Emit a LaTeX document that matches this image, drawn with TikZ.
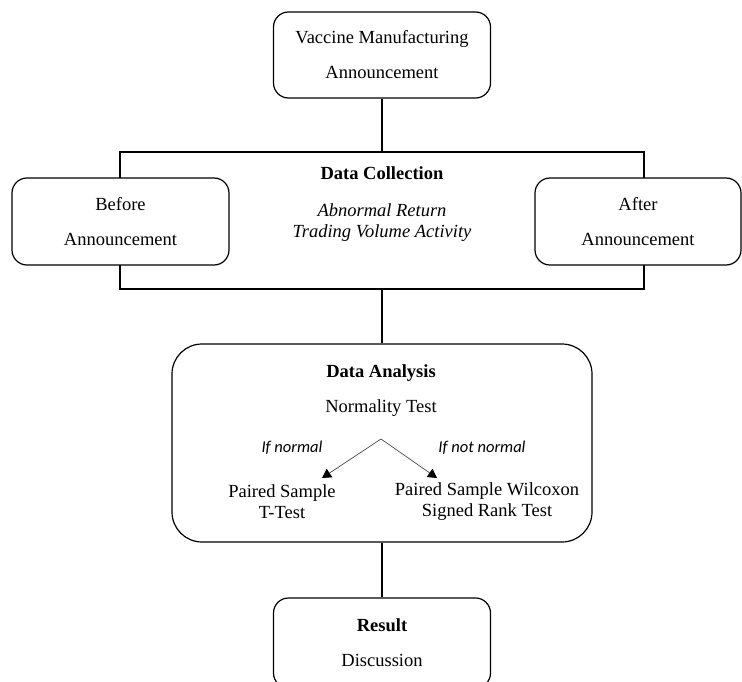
\documentclass[tikz,border=0pt]{standalone}
\usepackage{fontspec}
\setmainfont{Liberation Serif}
\newfontfamily\labelfont{Carlito}
\usetikzlibrary{arrows.meta}

\begin{document}
\begin{tikzpicture}[x=1pt, y=-1pt, line width=1.2pt,
  box/.style={draw, rounded corners=15pt, fill=white, align=center, inner sep=0pt, font=\fontsize{18.5}{35}\selectfont},
  txt/.style={align=center, inner sep=0pt, font=\fontsize{18.5}{21}\selectfont},
  cond/.style={inner sep=0pt, font=\labelfont\itshape\fontsize{16.5}{18}\selectfont},
  branch/.style={-{Triangle[width=10pt,length=9pt,color=black]}, line width=0.7pt, draw=black!70}]
  \clip (0,0) rectangle (742,682);
  \useasboundingbox (0,0) rectangle (742,682);
  \node[box, minimum width=217pt, minimum height=86pt] (vaccine) at (382,55) {Vaccine Manufacturing\\Announcement};
  \node[draw, minimum width=524pt, minimum height=137pt, inner sep=0pt] (collect) at (382,220.5) {};
  \node[box, minimum width=217pt, minimum height=87pt] (before) at (120.5,221.5) {Before\\Announcement};
  \node[box, minimum width=206pt, minimum height=87pt] (after) at (638,221.5) {After\\Announcement};
  \node[txt, font=\bfseries\fontsize{18.5}{21}\selectfont] (collecttitle) at (382,173) {Data Collection};
  \node[txt, font=\itshape\fontsize{18.5}{21}\selectfont] (variables) at (382,222.5) {Abnormal Return\\Trading Volume Activity};
  \node[box, rounded corners=30pt, minimum width=420pt, minimum height=198pt] (analysis) at (382,443) {};
  \node[txt, font=\bfseries\fontsize{18.5}{21}\selectfont] (analysistitle) at (381,373) {Data Analysis};
  \node[txt] (normality) at (381,408) {Normality Test};
  \node[txt] (ttest) at (282,502) {Paired Sample\\T-Test};
  \node[txt] (wilcoxon) at (487,502) {Paired Sample Wilcoxon\\Signed Rank Test};
  \node[cond] (normal) at (292,448) {If normal};
  \node[cond] (notnormal) at (482,448) {If not normal};
  \coordinate (fork) at (381,439);
  \coordinate (normaltip) at (322,478);
  \coordinate (nonnormaltip) at (437,478);
  \draw[branch] (fork) -- (normaltip);
  \draw[branch] (fork) -- (nonnormaltip);
  \node[box, minimum width=217pt, minimum height=90pt] (result) at (382,643) {\textbf{Result}\\Discussion};
  \draw (vaccine) -- (collect);
  \draw (collect) -- (analysis);
  \draw (analysis) -- (result);
\end{tikzpicture}
\end{document}
